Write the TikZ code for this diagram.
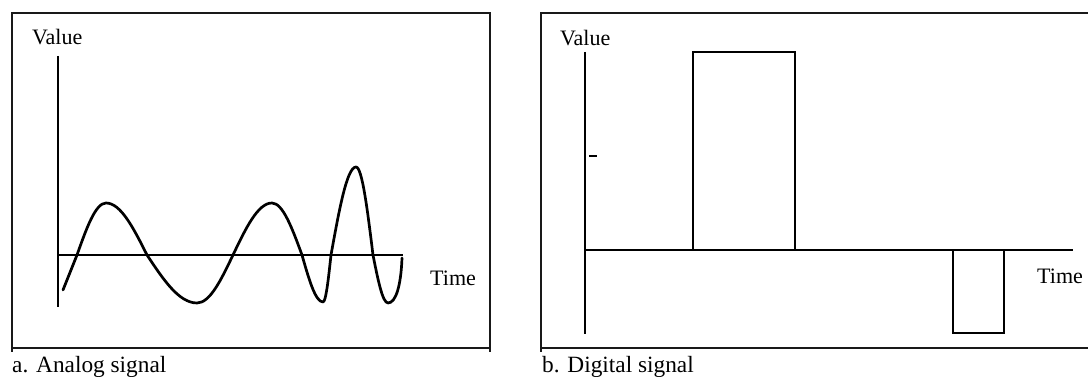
\documentclass[tikz,border=0pt]{standalone}
\usepackage{fontspec}
\setmainfont{Liberation Serif}

\tikzset{
    frameline/.style={line width=1.3pt, black!90},
    axisline/.style={line width=0.9pt},
    waveline/.style={line width=2.3pt, line join=round, line cap=round},
    pulseline/.style={line width=1.2pt},
    axislabel/.style={anchor=base west, inner sep=0pt, font=\fontsize{18.8}{21}\selectfont},
    caption/.style={anchor=base west, inner sep=0pt, font=\fontsize{19.9}{22}\selectfont}
}

\begin{document}
\begin{tikzpicture}[
    x=0.03cm,
    y=-0.03cm  % 像素坐标：y 向下
]
    \useasboundingbox (0,0) rectangle (1088,377);

    % 左图：模拟信号
    % 外框
    \draw[frameline] (12,352) -- (12,13) -- (490,13) -- (490,352);
    \draw[frameline] (12,348) -- (490,348);
    % 坐标轴
    \coordinate (aO) at (58,255);
    \coordinate (aTop) at (58,56);
    \coordinate (aBot) at (58,307);
    \coordinate (aEnd) at (403,255);
    \draw[axisline] (aTop) -- (aBot);
    \draw[axisline] (aO) -- (aEnd);
    \node[axislabel] (aValue) at (32,45) {Value};
    \node[axislabel] (aTime) at (430,286) {Time};
    % 波形（正弦段拼接）
    \draw[waveline] (63,290) -- (77,255)
        sin (106,203) cos (147,255)
        sin (197,303) cos (233,255)
        sin (272,203) cos (302,255)
        sin (323,302) cos (331,255)
        sin (356,167) cos (373,255)
        sin (388,303) .. controls (396,303) and (401,285) .. (402,258);
    \node[caption] (aCap) at (12,373) {a. Analog signal};

    % 右图：数字信号
    \draw[frameline] (1088,13) -- (541,13) -- (541,352);
    \draw[frameline] (541,348) -- (1088,348);
    \coordinate (bO) at (585,250);
    \coordinate (bTop) at (585,52);
    \coordinate (bBot) at (585,334);
    \coordinate (bEnd) at (1073,250);
    \draw[axisline] (bTop) -- (bBot);
    \draw[axisline] (bO) -- (bEnd);
    % 刻度短线
    \draw[line width=2.2pt] (589,156) -- (597,156);
    \node[axislabel] (bValue) at (560,46) {Value};
    \node[axislabel] (bTime) at (1037,284) {Time};
    % 脉冲：起点/终点/高度
    \foreach \a/\b/\h in {693/795/52, 953/1004/333} {
        \draw[pulseline] (\a,250) -- (\a,\h) -- (\b,\h) -- (\b,250);
    }
    \draw[line width=2.4pt] (955,333) -- (1002,333); % 底部加粗
    \node[caption] (bCap) at (542,373) {b. Digital signal};
\end{tikzpicture}
\end{document}
